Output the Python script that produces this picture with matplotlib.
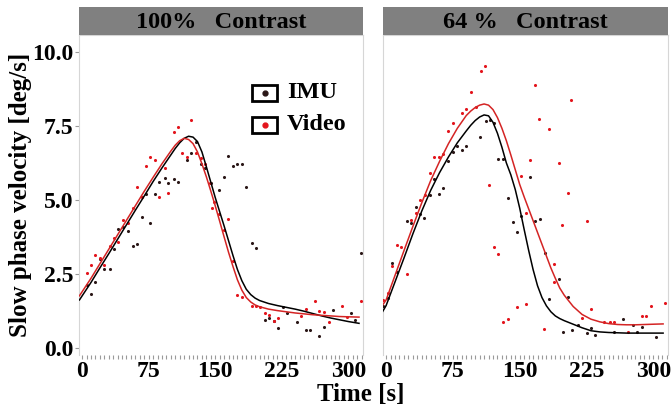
import matplotlib
matplotlib.use("Agg")
import matplotlib.pyplot as plt
from matplotlib.patches import Rectangle
from matplotlib.ticker import MultipleLocator

plt.rcParams['font.family'] = ['Liberation Serif', 'DejaVu Serif']
plt.rcParams['font.weight'] = 'bold'

# ---- data ----
panel_titles = ["100%   Contrast", "64 %   Contrast"]
series_names = ["IMU", "Video"]
x_ticks = [0, 75, 150, 225, 300]
y_ticks = [0.0, 2.5, 5.0, 7.5, 10.0]

# 100% contrast, IMU points
imu100_t = [5, 10, 15, 20, 25, 31, 36, 41, 46, 52, 57, 62, 67, 72, 77, 82, 87, 93, 97, 103,
            108, 118, 123, 128, 134, 139, 145, 154, 160, 164, 170, 175, 180, 185, 191, 196,
            206, 211, 216, 221, 226, 231, 242, 252, 257, 267, 272, 283, 303, 308, 314]
imu100_v = [2.13, 1.82, 2.23, 3.00, 2.68, 2.68, 3.33, 4.03, 4.10, 3.95, 3.45, 3.52, 4.41, 5.19,
            4.23, 5.19, 5.61, 5.74, 5.56, 5.72, 5.60, 6.35, 6.60, 6.95, 6.20, 6.09, 5.56, 5.34,
            5.77, 6.47, 6.15, 6.21, 6.22, 5.44, 3.56, 3.36, 0.95, 1.00, 0.91, 0.66, 1.37, 1.19,
            0.88, 0.61, 0.62, 0.40, 0.69, 1.29, 1.18, 0.95, 3.22]

# 100% contrast, Video points
vid100_t = [5, 10, 15, 20, 25, 31, 36, 41, 46, 52, 57, 62, 67, 72, 77, 82, 87, 93, 97, 103,
            108, 113, 118, 123, 128, 134, 139, 144, 146, 149, 154, 160, 164, 170, 175, 180,
            191, 196, 201, 206, 211, 216, 221, 247, 252, 262, 267, 272, 278, 293, 298, 314]
vid100_v = [2.54, 2.79, 3.13, 3.04, 2.79, 3.45, 3.70, 3.57, 4.32, 4.23, 4.74, 5.43, 5.11, 6.13,
            6.46, 6.35, 5.11, 6.08, 5.23, 7.30, 7.46, 6.57, 6.46, 7.70, 6.60, 6.41, 6.22, 5.56,
            4.72, 4.93, 4.53, 3.99, 4.36, 2.92, 1.79, 1.73, 1.42, 1.40, 1.37, 1.17, 1.10, 0.92,
            1.00, 1.08, 1.30, 1.58, 1.26, 1.22, 0.89, 1.40, 1.05, 1.58]

# 64% contrast, IMU points
imu64_t = [-3, 2, 7, 12, 23, 28, 33, 38, 43, 49, 54, 59, 64, 69, 75, 80, 85, 90, 105, 112,
           117, 121, 126, 131, 137, 142, 147, 152, 162, 167, 173, 178, 183, 194, 199, 204,
           209, 215, 225, 230, 235, 256, 266, 277, 282, 287, 303]
imu64_v = [1.40, 1.70, 2.88, 2.56, 4.29, 4.21, 4.77, 4.52, 4.40, 5.17, 5.70, 5.19, 5.40, 6.30,
           6.63, 6.82, 6.69, 6.83, 7.14, 7.65, 7.70, 7.60, 6.37, 6.37, 5.08, 4.24, 3.93, 4.45,
           5.77, 4.30, 4.34, 3.20, 1.66, 2.32, 0.55, 1.73, 0.62, 0.78, 0.50, 0.66, 0.44, 0.55,
           0.97, 0.76, 0.55, 0.72, 0.36]

# 64% contrast, Video points
vid64_t = [-3, 2, 7, 12, 17, 23, 28, 33, 38, 44, 49, 54, 59, 64, 69, 75, 85, 90, 95, 101,
           106, 111, 116, 121, 126, 131, 137, 147, 152, 157, 157, 162, 167, 172, 177, 183,
           188, 188, 194, 198, 204, 208, 220, 225, 230, 245, 251, 256, 272, 287, 292, 297, 313]
vid64_v = [1.62, 1.85, 2.75, 3.48, 3.42, 2.49, 4.32, 4.55, 5.00, 5.17, 5.90, 6.44, 6.44, 6.54,
           7.34, 7.61, 7.93, 8.07, 8.64, 8.13, 9.36, 9.53, 5.50, 3.40, 3.18, 0.88, 0.97, 1.37,
           5.79, 4.55, 1.47, 6.35, 8.89, 7.73, 0.63, 7.39, 2.83, 2.24, 6.24, 4.16, 5.22, 8.38,
           1.00, 4.27, 1.31, 0.86, 0.89, 0.86, 0.55, 1.08, 1.08, 1.42, 1.50]

# smooth fits
fit100_t = [-3, 10, 20, 30, 40, 50, 60, 70, 80, 90, 100, 105, 110, 115, 120, 125, 130, 135,
            140, 145, 150, 155, 160, 165, 170, 175, 180, 185, 190, 195, 200, 210, 220, 230,
            240, 250, 260, 270, 280, 290, 300, 312]
fit100_imu = [1.62, 2.21, 2.70, 3.18, 3.67, 4.16, 4.65, 5.13, 5.62, 6.08, 6.52, 6.74, 6.93,
              7.08, 7.15, 7.12, 6.97, 6.62, 6.12, 5.60, 5.08, 4.60, 4.12, 3.62, 3.12, 2.65,
              2.27, 1.98, 1.80, 1.68, 1.60, 1.50, 1.43, 1.37, 1.31, 1.24, 1.16, 1.08, 1.01,
              0.95, 0.89, 0.83]
fit100_vid = [1.76, 2.35, 2.84, 3.33, 3.82, 4.31, 4.80, 5.29, 5.76, 6.22, 6.65, 6.85, 7.00,
              7.08, 7.04, 6.90, 6.62, 6.22, 5.78, 5.30, 4.80, 4.28, 3.75, 3.23, 2.75, 2.30,
              1.95, 1.70, 1.55, 1.45, 1.39, 1.31, 1.26, 1.22, 1.18, 1.15, 1.12, 1.10, 1.08,
              1.06, 1.05, 1.04]

fit64_t = [-5, 0, 10, 20, 30, 40, 50, 60, 70, 80, 90, 95, 100, 105, 110, 115, 120, 125, 130,
           135, 140, 145, 150, 155, 160, 165, 170, 175, 180, 185, 190, 195, 200, 210, 220, 230,
           240, 250, 260, 270, 280, 290, 300, 311]
fit64_imu = [1.17, 1.43, 2.23, 3.03, 3.85, 4.62, 5.32, 5.92, 6.45, 6.93, 7.33, 7.52, 7.68,
             7.80, 7.87, 7.84, 7.62, 7.25, 6.78, 6.25, 5.85, 5.35, 4.72, 4.00, 3.30, 2.65,
             2.10, 1.70, 1.42, 1.22, 1.08, 0.99, 0.92, 0.80, 0.68, 0.58, 0.54, 0.52, 0.51,
             0.50, 0.50, 0.50, 0.50, 0.50]
fit64_vid = [1.40, 1.62, 2.45, 3.28, 4.10, 4.90, 5.65, 6.30, 6.90, 7.42, 7.85, 8.00, 8.12,
             8.20, 8.24, 8.20, 8.05, 7.78, 7.42, 7.00, 6.52, 6.02, 5.52, 5.10, 4.70, 4.30,
             3.90, 3.50, 3.10, 2.70, 2.35, 2.02, 1.78, 1.40, 1.13, 0.97, 0.88, 0.82, 0.79,
             0.78, 0.78, 0.79, 0.80, 0.81]

W, H = 671, 413
imu_pt = "#2a1616"
vid_pt = "#e3141c"
vid_line = "#d42424"

fig = plt.figure(figsize=(W / 100, H / 100), dpi=100)


def fx(px):
    return px / W


def fy(py):
    return 1 - py / H


panels = [
    (79, 363, imu100_t, imu100_v, vid100_t, vid100_v, fit100_t, fit100_imu, fit100_vid),
    (383, 668, imu64_t, imu64_v, vid64_t, vid64_v, fit64_t, fit64_imu, fit64_vid),
]

for i, (x0, x1, it, iv, vt, vv, ft, fi, fv) in enumerate(panels):
    ax = fig.add_axes([fx(x0), fy(355), fx(x1 - x0), (355 - 35) / H])
    ax.scatter(it, iv, s=5, color=imu_pt, linewidths=0, zorder=3)
    ax.scatter(vt, vv, s=5, color=vid_pt, linewidths=0, zorder=3)
    ax.plot(ft, fi, color="black", lw=1.1, zorder=4)
    ax.plot(ft, fv, color=vid_line, lw=1.1, zorder=4)
    ax.set_xlim(-3.5, 316.5)
    ax.set_ylim(-0.24, 10.57)
    ax.set_xticks(x_ticks)
    ax.set_xticklabels([str(v) for v in x_ticks])
    ax.xaxis.set_minor_locator(MultipleLocator(5))
    ax.tick_params(axis="x", which="both", length=3, width=0.8, color="#9a9a9a",
                   labelsize=17, pad=1)
    if i == 0:
        ax.set_yticks(y_ticks)
        ax.set_yticklabels([f"{v:.1f}" for v in y_ticks])
        ax.tick_params(axis="y", length=3, width=0.8, color="#9a9a9a", labelsize=17, pad=1)
    else:
        ax.set_yticks([])
    for sp in ax.spines.values():
        sp.set_color("#d6d6d6")
        sp.set_linewidth(0.8)
    ax.spines["bottom"].set_visible(False)

    # strip on top
    sax = fig.add_axes([fx(x0), fy(35), fx(x1 - x0), (35 - 7) / H])
    sax.set_facecolor("#808080")
    sax.set_xticks([])
    sax.set_yticks([])
    for sp in sax.spines.values():
        sp.set_visible(False)
    sax.text(0.5, 0.45, panel_titles[i], ha="center", va="center", fontsize=17.5,
             fontweight="bold", transform=sax.transAxes)

# legend drawn by hand in the first panel
legend_rows = [(series_names[0], imu_pt, 93), (series_names[1], vid_pt, 125)]
for name, col, yc in legend_rows:
    fig.patches.append(Rectangle((fx(252), fy(yc + 8)), fx(25), 16 / H, fill=True,
                                 facecolor="white", edgecolor="black", lw=2,
                                 transform=fig.transFigure, zorder=10))
    fig.lines.append(plt.Line2D([fx(264.5)], [fy(yc)], marker="o", ms=3.5, color=col,
                                transform=fig.transFigure, zorder=11))
    fig.text(fx(287), fy(yc), name, ha="left", va="center", fontsize=17.5, fontweight="bold")

fig.text(fx(361), fy(395), "Time [s]", ha="center", va="center", fontsize=18,
         fontweight="bold")
fig.text(fx(21), fy(195), "Slow phase velocity [deg/s]", ha="center", va="center",
         rotation=90, fontsize=18, fontweight="bold")

fig.savefig("out.png", dpi=100)
